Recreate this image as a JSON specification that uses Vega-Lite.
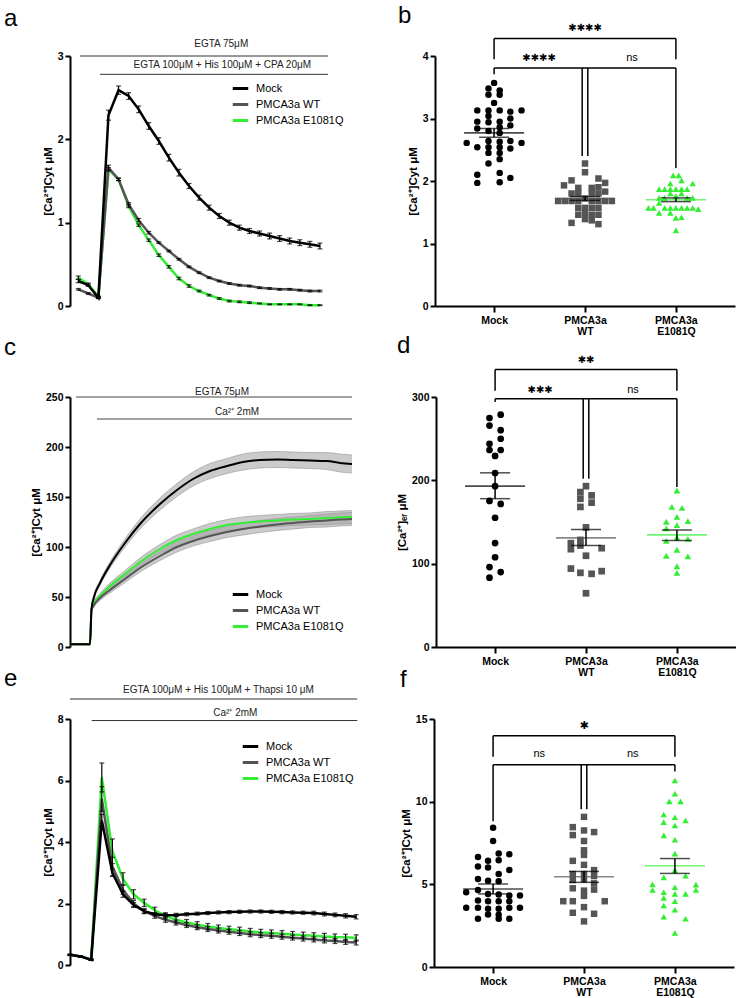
{
"$schema":"https://vega.github.io/schema/vega-lite/v6.json",
"padding":{"left":4,"top":3,"right":0,"bottom":0},
"background":"white",
"config":{"view":{"stroke":null},"font":"Liberation Sans",
"axis":{"domainColor":"#000","domainWidth":2,"tickColor":"#000","tickWidth":2,"tickSize":5,"labelFontSize":10.5,"labelFontWeight":"bold","labelColor":"#000","titleFontSize":11.5,"titleFontWeight":"bold","titleColor":"#000","grid":false,"labelFont":"Liberation Sans","titleFont":"Liberation Sans"},
"legend":{"labelFont":"Liberation Sans","labelColor":"#000"}},
"datasets":{
"a":[
{"g":"PMCA3a E1081Q","x":0,"y":0.34,"s":0.02},{"g":"PMCA3a E1081Q","x":1,"y":0.26,"s":0.015},{"g":"PMCA3a E1081Q","x":2,"y":0.11,"s":0.01},{"g":"PMCA3a E1081Q","x":3,"y":1.64,"s":0.02},{"g":"PMCA3a E1081Q","x":4,"y":1.52,"s":0.015},{"g":"PMCA3a E1081Q","x":5,"y":1.2,"s":0.02},{"g":"PMCA3a E1081Q","x":6,"y":0.97,"s":0.015},{"g":"PMCA3a E1081Q","x":7,"y":0.79,"s":0.015},{"g":"PMCA3a E1081Q","x":8,"y":0.61,"s":0.015},{"g":"PMCA3a E1081Q","x":9,"y":0.47,"s":0.015},{"g":"PMCA3a E1081Q","x":10,"y":0.33,"s":0.015},{"g":"PMCA3a E1081Q","x":11,"y":0.24,"s":0.015},{"g":"PMCA3a E1081Q","x":12,"y":0.18,"s":0.01},{"g":"PMCA3a E1081Q","x":13,"y":0.13,"s":0.01},{"g":"PMCA3a E1081Q","x":14,"y":0.09,"s":0.01},{"g":"PMCA3a E1081Q","x":15,"y":0.06,"s":0.01},{"g":"PMCA3a E1081Q","x":16,"y":0.05,"s":0.01},{"g":"PMCA3a E1081Q","x":17,"y":0.04,"s":0.01},{"g":"PMCA3a E1081Q","x":18,"y":0.03,"s":0.005},{"g":"PMCA3a E1081Q","x":19,"y":0.02,"s":0.005},{"g":"PMCA3a E1081Q","x":20,"y":0.02,"s":0.005},{"g":"PMCA3a E1081Q","x":21,"y":0.02,"s":0.005},{"g":"PMCA3a E1081Q","x":22,"y":0.02,"s":0.005},{"g":"PMCA3a E1081Q","x":23,"y":0.01,"s":0.005},{"g":"PMCA3a E1081Q","x":24,"y":0.01,"s":0.005},
{"g":"PMCA3a WT","x":0,"y":0.2,"s":0.01},{"g":"PMCA3a WT","x":1,"y":0.15,"s":0.01},{"g":"PMCA3a WT","x":2,"y":0.1,"s":0.01},{"g":"PMCA3a WT","x":3,"y":1.66,"s":0.03},{"g":"PMCA3a WT","x":4,"y":1.52,"s":0.015},{"g":"PMCA3a WT","x":5,"y":1.22,"s":0.02},{"g":"PMCA3a WT","x":6,"y":1.03,"s":0.02},{"g":"PMCA3a WT","x":7,"y":0.88,"s":0.015},{"g":"PMCA3a WT","x":8,"y":0.76,"s":0.01},{"g":"PMCA3a WT","x":9,"y":0.66,"s":0.01},{"g":"PMCA3a WT","x":10,"y":0.56,"s":0.01},{"g":"PMCA3a WT","x":11,"y":0.47,"s":0.01},{"g":"PMCA3a WT","x":12,"y":0.4,"s":0.01},{"g":"PMCA3a WT","x":13,"y":0.34,"s":0.01},{"g":"PMCA3a WT","x":14,"y":0.3,"s":0.01},{"g":"PMCA3a WT","x":15,"y":0.27,"s":0.01},{"g":"PMCA3a WT","x":16,"y":0.25,"s":0.01},{"g":"PMCA3a WT","x":17,"y":0.24,"s":0.01},{"g":"PMCA3a WT","x":18,"y":0.22,"s":0.01},{"g":"PMCA3a WT","x":19,"y":0.21,"s":0.01},{"g":"PMCA3a WT","x":20,"y":0.2,"s":0.01},{"g":"PMCA3a WT","x":21,"y":0.2,"s":0.01},{"g":"PMCA3a WT","x":22,"y":0.19,"s":0.01},{"g":"PMCA3a WT","x":23,"y":0.18,"s":0.01},{"g":"PMCA3a WT","x":24,"y":0.18,"s":0.01},
{"g":"Mock","x":0,"y":0.3,"s":0.02},{"g":"Mock","x":1,"y":0.25,"s":0.015},{"g":"Mock","x":2,"y":0.1,"s":0.01},{"g":"Mock","x":3,"y":2.29,"s":0.06},{"g":"Mock","x":4,"y":2.59,"s":0.05},{"g":"Mock","x":5,"y":2.52,"s":0.04},{"g":"Mock","x":6,"y":2.36,"s":0.04},{"g":"Mock","x":7,"y":2.16,"s":0.04},{"g":"Mock","x":8,"y":1.98,"s":0.04},{"g":"Mock","x":9,"y":1.78,"s":0.04},{"g":"Mock","x":10,"y":1.6,"s":0.04},{"g":"Mock","x":11,"y":1.44,"s":0.03},{"g":"Mock","x":12,"y":1.3,"s":0.03},{"g":"Mock","x":13,"y":1.18,"s":0.03},{"g":"Mock","x":14,"y":1.08,"s":0.03},{"g":"Mock","x":15,"y":1.0,"s":0.03},{"g":"Mock","x":16,"y":0.94,"s":0.03},{"g":"Mock","x":17,"y":0.9,"s":0.03},{"g":"Mock","x":18,"y":0.87,"s":0.03},{"g":"Mock","x":19,"y":0.84,"s":0.035},{"g":"Mock","x":20,"y":0.81,"s":0.035},{"g":"Mock","x":21,"y":0.78,"s":0.035},{"g":"Mock","x":22,"y":0.76,"s":0.035},{"g":"Mock","x":23,"y":0.74,"s":0.035},{"g":"Mock","x":24,"y":0.72,"s":0.035}],
"ann_a":[{"x":0.17,"x2":24.8,"y":3.0},{"x":2.15,"x2":24.8,"y":2.78}],
"txt_a":[{"x":14.2,"y":3.14,"t":"EGTA 75μM"},{"x":14.3,"y":2.89,"t":"EGTA 100μM + His 100μM  + CPA 20μM"}],
"c":[
{"g":"PMCA3a E1081Q","x":0,"y":2.7,"s":0.3},{"g":"PMCA3a E1081Q","x":20,"y":2.7,"s":0.3},{"g":"PMCA3a E1081Q","x":21.5,"y":38,"s":1.5},{"g":"PMCA3a E1081Q","x":24,"y":44,"s":2},{"g":"PMCA3a E1081Q","x":30,"y":51,"s":2.5},{"g":"PMCA3a E1081Q","x":40,"y":61,"s":3},{"g":"PMCA3a E1081Q","x":55,"y":73,"s":3.5},{"g":"PMCA3a E1081Q","x":70,"y":85,"s":4},{"g":"PMCA3a E1081Q","x":90,"y":98,"s":4.5},{"g":"PMCA3a E1081Q","x":107,"y":107,"s":5},{"g":"PMCA3a E1081Q","x":123,"y":113,"s":5},{"g":"PMCA3a E1081Q","x":140,"y":118,"s":5.5},{"g":"PMCA3a E1081Q","x":157,"y":122,"s":5.5},{"g":"PMCA3a E1081Q","x":173,"y":124,"s":6},{"g":"PMCA3a E1081Q","x":190,"y":125.5,"s":6},{"g":"PMCA3a E1081Q","x":207,"y":126.5,"s":6},{"g":"PMCA3a E1081Q","x":223,"y":127.5,"s":6},{"g":"PMCA3a E1081Q","x":240,"y":128,"s":6},{"g":"PMCA3a E1081Q","x":257,"y":129,"s":6.5},{"g":"PMCA3a E1081Q","x":270,"y":129.5,"s":6.5},{"g":"PMCA3a E1081Q","x":282,"y":130,"s":6.5},
{"g":"PMCA3a WT","x":0,"y":2.7,"s":0.3},{"g":"PMCA3a WT","x":20,"y":2.7,"s":0.3},{"g":"PMCA3a WT","x":21.5,"y":37,"s":1.5},{"g":"PMCA3a WT","x":24,"y":42,"s":2},{"g":"PMCA3a WT","x":30,"y":49,"s":2.5},{"g":"PMCA3a WT","x":40,"y":57,"s":3},{"g":"PMCA3a WT","x":55,"y":68,"s":3.5},{"g":"PMCA3a WT","x":70,"y":79,"s":4},{"g":"PMCA3a WT","x":90,"y":91,"s":4.5},{"g":"PMCA3a WT","x":107,"y":100,"s":5},{"g":"PMCA3a WT","x":123,"y":106,"s":5},{"g":"PMCA3a WT","x":140,"y":111,"s":5.5},{"g":"PMCA3a WT","x":157,"y":115,"s":5.5},{"g":"PMCA3a WT","x":173,"y":118,"s":6},{"g":"PMCA3a WT","x":190,"y":120.5,"s":6},{"g":"PMCA3a WT","x":207,"y":122.5,"s":6},{"g":"PMCA3a WT","x":223,"y":124,"s":6},{"g":"PMCA3a WT","x":240,"y":125.5,"s":6},{"g":"PMCA3a WT","x":257,"y":126.5,"s":6.5},{"g":"PMCA3a WT","x":270,"y":127.5,"s":6.5},{"g":"PMCA3a WT","x":282,"y":128,"s":6.5},
{"g":"Mock","x":0,"y":2.7,"s":0.3},{"g":"Mock","x":20,"y":2.7,"s":0.3},{"g":"Mock","x":21.5,"y":38,"s":1.5},{"g":"Mock","x":24,"y":50,"s":2},{"g":"Mock","x":30,"y":64,"s":2.5},{"g":"Mock","x":40,"y":82,"s":3},{"g":"Mock","x":55,"y":104,"s":4},{"g":"Mock","x":70,"y":123,"s":5},{"g":"Mock","x":90,"y":143,"s":6},{"g":"Mock","x":107,"y":157,"s":6.5},{"g":"Mock","x":123,"y":168,"s":7},{"g":"Mock","x":140,"y":176,"s":7.5},{"g":"Mock","x":157,"y":181,"s":7.5},{"g":"Mock","x":173,"y":185,"s":8},{"g":"Mock","x":190,"y":187,"s":8},{"g":"Mock","x":207,"y":187.5,"s":8},{"g":"Mock","x":223,"y":187,"s":8},{"g":"Mock","x":240,"y":186.5,"s":8},{"g":"Mock","x":257,"y":186,"s":8.5},{"g":"Mock","x":270,"y":184,"s":9},{"g":"Mock","x":282,"y":183,"s":9}],
"ann_c":[{"x":6,"x2":282,"y":250},{"x":27,"x2":282,"y":228}],
"txt_c":[{"x":152,"y":255,"t":"EGTA 75μM"},{"x":167,"y":235,"t":"Ca²⁺ 2mM"}],
"e":[
{"g":"PMCA3a E1081Q","x":0,"y":0.33,"s":0.02},{"g":"PMCA3a E1081Q","x":1,"y":0.28,"s":0.02},{"g":"PMCA3a E1081Q","x":2,"y":0.17,"s":0.02},{"g":"PMCA3a E1081Q","x":3,"y":6.1,"s":0.47},{"g":"PMCA3a E1081Q","x":4,"y":3.7,"s":0.4},{"g":"PMCA3a E1081Q","x":5,"y":2.8,"s":0.2},{"g":"PMCA3a E1081Q","x":6,"y":2.3,"s":0.15},{"g":"PMCA3a E1081Q","x":7,"y":2.02,"s":0.12},{"g":"PMCA3a E1081Q","x":8,"y":1.78,"s":0.1},{"g":"PMCA3a E1081Q","x":9,"y":1.6,"s":0.1},{"g":"PMCA3a E1081Q","x":10,"y":1.47,"s":0.1},{"g":"PMCA3a E1081Q","x":11,"y":1.38,"s":0.1},{"g":"PMCA3a E1081Q","x":12,"y":1.31,"s":0.1},{"g":"PMCA3a E1081Q","x":13,"y":1.25,"s":0.1},{"g":"PMCA3a E1081Q","x":14,"y":1.2,"s":0.1},{"g":"PMCA3a E1081Q","x":15,"y":1.16,"s":0.1},{"g":"PMCA3a E1081Q","x":16,"y":1.13,"s":0.1},{"g":"PMCA3a E1081Q","x":17,"y":1.09,"s":0.1},{"g":"PMCA3a E1081Q","x":18,"y":1.06,"s":0.1},{"g":"PMCA3a E1081Q","x":19,"y":1.04,"s":0.1},{"g":"PMCA3a E1081Q","x":20,"y":1.02,"s":0.1},{"g":"PMCA3a E1081Q","x":21,"y":0.99,"s":0.1},{"g":"PMCA3a E1081Q","x":22,"y":0.97,"s":0.1},{"g":"PMCA3a E1081Q","x":23,"y":0.95,"s":0.1},{"g":"PMCA3a E1081Q","x":24,"y":0.93,"s":0.1},{"g":"PMCA3a E1081Q","x":25,"y":0.91,"s":0.1},{"g":"PMCA3a E1081Q","x":26,"y":0.9,"s":0.1},{"g":"PMCA3a E1081Q","x":27,"y":0.88,"s":0.1},
{"g":"PMCA3a WT","x":0,"y":0.33,"s":0.02},{"g":"PMCA3a WT","x":1,"y":0.28,"s":0.02},{"g":"PMCA3a WT","x":2,"y":0.17,"s":0.02},{"g":"PMCA3a WT","x":3,"y":5.4,"s":0.4},{"g":"PMCA3a WT","x":4,"y":3.2,"s":0.3},{"g":"PMCA3a WT","x":5,"y":2.45,"s":0.15},{"g":"PMCA3a WT","x":6,"y":2.0,"s":0.1},{"g":"PMCA3a WT","x":7,"y":1.75,"s":0.08},{"g":"PMCA3a WT","x":8,"y":1.6,"s":0.08},{"g":"PMCA3a WT","x":9,"y":1.47,"s":0.08},{"g":"PMCA3a WT","x":10,"y":1.38,"s":0.08},{"g":"PMCA3a WT","x":11,"y":1.3,"s":0.08},{"g":"PMCA3a WT","x":12,"y":1.23,"s":0.08},{"g":"PMCA3a WT","x":13,"y":1.17,"s":0.08},{"g":"PMCA3a WT","x":14,"y":1.12,"s":0.08},{"g":"PMCA3a WT","x":15,"y":1.08,"s":0.08},{"g":"PMCA3a WT","x":16,"y":1.04,"s":0.08},{"g":"PMCA3a WT","x":17,"y":1.0,"s":0.08},{"g":"PMCA3a WT","x":18,"y":0.97,"s":0.08},{"g":"PMCA3a WT","x":19,"y":0.95,"s":0.08},{"g":"PMCA3a WT","x":20,"y":0.92,"s":0.08},{"g":"PMCA3a WT","x":21,"y":0.89,"s":0.08},{"g":"PMCA3a WT","x":22,"y":0.86,"s":0.08},{"g":"PMCA3a WT","x":23,"y":0.83,"s":0.08},{"g":"PMCA3a WT","x":24,"y":0.8,"s":0.08},{"g":"PMCA3a WT","x":25,"y":0.78,"s":0.08},{"g":"PMCA3a WT","x":26,"y":0.75,"s":0.08},{"g":"PMCA3a WT","x":27,"y":0.73,"s":0.08},
{"g":"Mock","x":0,"y":0.33,"s":0.02},{"g":"Mock","x":1,"y":0.28,"s":0.02},{"g":"Mock","x":2,"y":0.17,"s":0.02},{"g":"Mock","x":3,"y":4.7,"s":0.2},{"g":"Mock","x":4,"y":3.0,"s":0.12},{"g":"Mock","x":5,"y":2.3,"s":0.1},{"g":"Mock","x":6,"y":1.95,"s":0.08},{"g":"Mock","x":7,"y":1.75,"s":0.06},{"g":"Mock","x":8,"y":1.65,"s":0.05},{"g":"Mock","x":9,"y":1.62,"s":0.05},{"g":"Mock","x":10,"y":1.63,"s":0.05},{"g":"Mock","x":11,"y":1.65,"s":0.05},{"g":"Mock","x":12,"y":1.67,"s":0.05},{"g":"Mock","x":13,"y":1.69,"s":0.05},{"g":"Mock","x":14,"y":1.71,"s":0.05},{"g":"Mock","x":15,"y":1.72,"s":0.05},{"g":"Mock","x":16,"y":1.73,"s":0.05},{"g":"Mock","x":17,"y":1.74,"s":0.05},{"g":"Mock","x":18,"y":1.74,"s":0.05},{"g":"Mock","x":19,"y":1.73,"s":0.05},{"g":"Mock","x":20,"y":1.72,"s":0.05},{"g":"Mock","x":21,"y":1.71,"s":0.05},{"g":"Mock","x":22,"y":1.7,"s":0.05},{"g":"Mock","x":23,"y":1.69,"s":0.06},{"g":"Mock","x":24,"y":1.66,"s":0.06},{"g":"Mock","x":25,"y":1.63,"s":0.06},{"g":"Mock","x":26,"y":1.6,"s":0.07},{"g":"Mock","x":27,"y":1.57,"s":0.07}],
"ann_e":[{"x":0,"x2":27.1,"y":8.65},{"x":2.05,"x2":27.1,"y":7.95}],
"txt_e":[{"x":14,"y":8.94,"t":"EGTA 100μM + His 100μM + Thapsi 10  μM"},{"x":15.6,"y":8.2,"t":"Ca²⁺ 2mM"}],
"b":[
{"g":"Mock","j":0,"y":3.57},{"g":"Mock","j":-1,"y":3.48},{"g":"Mock","j":1,"y":3.45},{"g":"Mock","j":-1,"y":3.38},{"g":"Mock","j":1,"y":3.38},{"g":"Mock","j":0,"y":3.25},{"g":"Mock","j":-3,"y":3.13},{"g":"Mock","j":-1,"y":3.13},{"g":"Mock","j":1,"y":3.13},{"g":"Mock","j":2.9,"y":3.11},{"g":"Mock","j":4.9,"y":3.13},{"g":"Mock","j":-1,"y":3.04},{"g":"Mock","j":2.9,"y":3.0},{"g":"Mock","j":-3,"y":2.95},{"g":"Mock","j":-1,"y":2.94},{"g":"Mock","j":1,"y":2.95},{"g":"Mock","j":2.9,"y":2.89},{"g":"Mock","j":-3,"y":2.84},{"g":"Mock","j":1,"y":2.86},{"g":"Mock","j":-1,"y":2.8},{"g":"Mock","j":1,"y":2.77},{"g":"Mock","j":-4.9,"y":2.61},{"g":"Mock","j":-3,"y":2.54},{"g":"Mock","j":-1,"y":2.64},{"g":"Mock","j":1,"y":2.63},{"g":"Mock","j":2.9,"y":2.64},{"g":"Mock","j":4.9,"y":2.61},{"g":"Mock","j":-1,"y":2.54},{"g":"Mock","j":1,"y":2.54},{"g":"Mock","j":2.9,"y":2.52},{"g":"Mock","j":-1,"y":2.45},{"g":"Mock","j":1,"y":2.45},{"g":"Mock","j":1,"y":2.35},{"g":"Mock","j":-1,"y":2.28},{"g":"Mock","j":-3,"y":2.1},{"g":"Mock","j":1,"y":2.13},{"g":"Mock","j":2.9,"y":2.05},{"g":"Mock","j":-3,"y":1.97},{"g":"Mock","j":1,"y":1.98},
{"g":"PMCA3a WT","j":0,"y":2.28},{"g":"PMCA3a WT","j":0,"y":2.14},{"g":"PMCA3a WT","j":-2.4,"y":2.01},{"g":"PMCA3a WT","j":2.4,"y":2.04},{"g":"PMCA3a WT","j":3.6,"y":1.97},{"g":"PMCA3a WT","j":-3.75,"y":1.93},{"g":"PMCA3a WT","j":-1.2,"y":1.89},{"g":"PMCA3a WT","j":1.2,"y":1.89},{"g":"PMCA3a WT","j":2.4,"y":1.9},{"g":"PMCA3a WT","j":3.6,"y":1.83},{"g":"PMCA3a WT","j":-2.4,"y":1.8},{"g":"PMCA3a WT","j":-1.2,"y":1.8},{"g":"PMCA3a WT","j":1.2,"y":1.8},{"g":"PMCA3a WT","j":2.4,"y":1.8},{"g":"PMCA3a WT","j":-4.8,"y":1.68},{"g":"PMCA3a WT","j":-3.6,"y":1.68},{"g":"PMCA3a WT","j":-2.4,"y":1.68},{"g":"PMCA3a WT","j":-1.2,"y":1.68},{"g":"PMCA3a WT","j":0,"y":1.72},{"g":"PMCA3a WT","j":1.2,"y":1.68},{"g":"PMCA3a WT","j":2.4,"y":1.68},{"g":"PMCA3a WT","j":3.6,"y":1.68},{"g":"PMCA3a WT","j":4.8,"y":1.68},{"g":"PMCA3a WT","j":-1.2,"y":1.57},{"g":"PMCA3a WT","j":0,"y":1.57},{"g":"PMCA3a WT","j":1.2,"y":1.57},{"g":"PMCA3a WT","j":2.4,"y":1.57},{"g":"PMCA3a WT","j":-1.2,"y":1.46},{"g":"PMCA3a WT","j":0,"y":1.49},{"g":"PMCA3a WT","j":1.2,"y":1.46},{"g":"PMCA3a WT","j":2.4,"y":1.46},{"g":"PMCA3a WT","j":0,"y":1.39},{"g":"PMCA3a WT","j":1.2,"y":1.37},{"g":"PMCA3a WT","j":-2.4,"y":1.33},{"g":"PMCA3a WT","j":2.4,"y":1.31},
{"g":"PMCA3a E1081Q","j":-0.5,"y":2.09},{"g":"PMCA3a E1081Q","j":0.5,"y":2.09},{"g":"PMCA3a E1081Q","j":1,"y":2.01},{"g":"PMCA3a E1081Q","j":-1,"y":1.96},{"g":"PMCA3a E1081Q","j":3,"y":1.96},{"g":"PMCA3a E1081Q","j":-3,"y":1.87},{"g":"PMCA3a E1081Q","j":-2,"y":1.87},{"g":"PMCA3a E1081Q","j":-1,"y":1.87},{"g":"PMCA3a E1081Q","j":0,"y":1.87},{"g":"PMCA3a E1081Q","j":1,"y":1.87},{"g":"PMCA3a E1081Q","j":2,"y":1.87},{"g":"PMCA3a E1081Q","j":-1,"y":1.8},{"g":"PMCA3a E1081Q","j":1,"y":1.8},{"g":"PMCA3a E1081Q","j":0,"y":1.76},{"g":"PMCA3a E1081Q","j":-3,"y":1.73},{"g":"PMCA3a E1081Q","j":-2,"y":1.73},{"g":"PMCA3a E1081Q","j":2,"y":1.73},{"g":"PMCA3a E1081Q","j":3,"y":1.73},{"g":"PMCA3a E1081Q","j":-3,"y":1.65},{"g":"PMCA3a E1081Q","j":-4.9,"y":1.57},{"g":"PMCA3a E1081Q","j":-4,"y":1.57},{"g":"PMCA3a E1081Q","j":-2,"y":1.57},{"g":"PMCA3a E1081Q","j":-1,"y":1.57},{"g":"PMCA3a E1081Q","j":0,"y":1.57},{"g":"PMCA3a E1081Q","j":1,"y":1.57},{"g":"PMCA3a E1081Q","j":2,"y":1.57},{"g":"PMCA3a E1081Q","j":3,"y":1.57},{"g":"PMCA3a E1081Q","j":4,"y":1.55},{"g":"PMCA3a E1081Q","j":-3,"y":1.49},{"g":"PMCA3a E1081Q","j":-1,"y":1.49},{"g":"PMCA3a E1081Q","j":0,"y":1.41},{"g":"PMCA3a E1081Q","j":1,"y":1.42},{"g":"PMCA3a E1081Q","j":0,"y":1.21}],
"bm":[{"g":"Mock","j":0,"y":2.77,"lo":2.7,"hi":2.84},{"g":"PMCA3a WT","j":0,"y":1.72,"lo":1.69,"hi":1.75},{"g":"PMCA3a E1081Q","j":0,"y":1.7,"lo":1.67,"hi":1.73}],
"bh":[{"g":"Mock","g2":"PMCA3a E1081Q","j":0,"y":4.28},{"g":"Mock","g2":"PMCA3a WT","j":0,"y":3.81},{"g":"PMCA3a WT","g2":"PMCA3a E1081Q","j":0,"y":3.81}],
"bv":[{"g":"Mock","j":0,"y":4.28,"y2":3.95},{"g":"PMCA3a E1081Q","j":0,"y":4.28,"y2":3.95},{"g":"Mock","j":0,"y":3.81,"y2":3.71},{"g":"PMCA3a WT","j":-0.5,"y":3.81,"y2":2.4},{"g":"PMCA3a WT","j":0.5,"y":3.81,"y2":2.4},{"g":"PMCA3a E1081Q","j":0,"y":3.81,"y2":2.21}],
"bs":[{"g":"PMCA3a WT","j":0,"y":4.45,"t":"✱✱✱✱"},{"g":"PMCA3a WT","j":-8.2,"y":3.97,"t":"✱✱✱✱"}],
"bn":[{"g":"PMCA3a WT","j":8.4,"y":3.97,"t":"ns"}],
"d":[
{"g":"Mock","j":-1,"y":274.8},{"g":"Mock","j":1,"y":278.8},{"g":"Mock","j":-1,"y":265.7},{"g":"Mock","j":1,"y":260.2},{"g":"Mock","j":1,"y":249.9},{"g":"Mock","j":-1,"y":243.9},{"g":"Mock","j":-1,"y":236.4},{"g":"Mock","j":1,"y":236.4},{"g":"Mock","j":0,"y":229.3},{"g":"Mock","j":0,"y":208.8},{"g":"Mock","j":0,"y":193},{"g":"Mock","j":-1,"y":175.3},{"g":"Mock","j":1,"y":171.7},{"g":"Mock","j":0,"y":155.1},{"g":"Mock","j":0,"y":124.7},{"g":"Mock","j":0,"y":107.7},{"g":"Mock","j":-1,"y":95.9},{"g":"Mock","j":1,"y":89.9},{"g":"Mock","j":-1,"y":83.2},
{"g":"PMCA3a WT","j":0,"y":193},{"g":"PMCA3a WT","j":-1,"y":185.9},{"g":"PMCA3a WT","j":1,"y":181.9},{"g":"PMCA3a WT","j":-1,"y":177.9},{"g":"PMCA3a WT","j":1,"y":173.2},{"g":"PMCA3a WT","j":-1,"y":168.1},{"g":"PMCA3a WT","j":0,"y":143.5},{"g":"PMCA3a WT","j":-1,"y":128.5},{"g":"PMCA3a WT","j":-2.7,"y":124.6},{"g":"PMCA3a WT","j":-1,"y":121.8},{"g":"PMCA3a WT","j":-2.7,"y":117.4},{"g":"PMCA3a WT","j":2.8,"y":118.6},{"g":"PMCA3a WT","j":0,"y":109.5},{"g":"PMCA3a WT","j":-2.7,"y":94.1},{"g":"PMCA3a WT","j":-1,"y":89},{"g":"PMCA3a WT","j":1,"y":87.8},{"g":"PMCA3a WT","j":2.8,"y":91},{"g":"PMCA3a WT","j":0,"y":64.5},
{"g":"PMCA3a E1081Q","j":0,"y":187.8},{"g":"PMCA3a E1081Q","j":-0.9,"y":168.1},{"g":"PMCA3a E1081Q","j":0.9,"y":166.9},{"g":"PMCA3a E1081Q","j":-1.9,"y":150.3},{"g":"PMCA3a E1081Q","j":0,"y":156.2},{"g":"PMCA3a E1081Q","j":1.96,"y":151.1},{"g":"PMCA3a E1081Q","j":-1.9,"y":142.4},{"g":"PMCA3a E1081Q","j":0,"y":146.3},{"g":"PMCA3a E1081Q","j":-1.9,"y":127.4},{"g":"PMCA3a E1081Q","j":0,"y":131.4},{"g":"PMCA3a E1081Q","j":1.96,"y":129.8},{"g":"PMCA3a E1081Q","j":0,"y":116.7},{"g":"PMCA3a E1081Q","j":-1.9,"y":109.5},{"g":"PMCA3a E1081Q","j":1.96,"y":108.7},{"g":"PMCA3a E1081Q","j":0,"y":96.9},{"g":"PMCA3a E1081Q","j":0,"y":89}],
"dm":[{"g":"Mock","j":0,"y":193,"lo":178,"hi":209},{"g":"PMCA3a WT","j":0,"y":131,"lo":121.8,"hi":141},{"g":"PMCA3a E1081Q","j":0,"y":134.5,"lo":127.8,"hi":140.4}],
"dh":[{"g":"Mock","g2":"PMCA3a E1081Q","j":0,"y":333},{"g":"Mock","g2":"PMCA3a WT","j":0,"y":298},{"g":"PMCA3a WT","g2":"PMCA3a E1081Q","j":0,"y":298}],
"dv":[{"g":"Mock","j":0,"y":333,"y2":307.5},{"g":"PMCA3a E1081Q","j":0,"y":333,"y2":307.5},{"g":"Mock","j":0,"y":298,"y2":294},{"g":"PMCA3a WT","j":-0.5,"y":298,"y2":202},{"g":"PMCA3a WT","j":0.5,"y":298,"y2":202},{"g":"PMCA3a E1081Q","j":0,"y":298,"y2":192}],
"ds":[{"g":"PMCA3a WT","j":0,"y":344,"t":"✱✱"},{"g":"PMCA3a WT","j":-8.2,"y":308,"t":"✱✱✱"}],
"dn":[{"g":"PMCA3a WT","j":8.4,"y":308,"t":"ns"}],
"f":[
{"g":"Mock","j":0,"y":8.42},{"g":"Mock","j":0,"y":7.62},{"g":"Mock","j":1,"y":6.86},{"g":"Mock","j":2.9,"y":6.82},{"g":"Mock","j":-2.7,"y":6.66},{"g":"Mock","j":1,"y":6.46},{"g":"Mock","j":-0.9,"y":6.42},{"g":"Mock","j":-2.7,"y":6.08},{"g":"Mock","j":-0.9,"y":6.02},{"g":"Mock","j":2.9,"y":5.86},{"g":"Mock","j":1,"y":5.62},{"g":"Mock","j":-2.7,"y":5.32},{"g":"Mock","j":-0.9,"y":5.22},{"g":"Mock","j":1,"y":5.18},{"g":"Mock","j":-2.7,"y":4.66},{"g":"Mock","j":-4.8,"y":4.52},{"g":"Mock","j":-0.9,"y":4.42},{"g":"Mock","j":1,"y":4.38},{"g":"Mock","j":2.9,"y":4.32},{"g":"Mock","j":4.8,"y":4.32},{"g":"Mock","j":-2.7,"y":4.02},{"g":"Mock","j":-0.9,"y":3.98},{"g":"Mock","j":1,"y":3.98},{"g":"Mock","j":2.9,"y":3.98},{"g":"Mock","j":-4.8,"y":3.58},{"g":"Mock","j":-2.7,"y":3.58},{"g":"Mock","j":-0.9,"y":3.52},{"g":"Mock","j":1,"y":3.52},{"g":"Mock","j":2.9,"y":3.58},{"g":"Mock","j":4.8,"y":3.58},{"g":"Mock","j":-0.9,"y":3.18},{"g":"Mock","j":1,"y":3.16},{"g":"Mock","j":-2.7,"y":2.92},{"g":"Mock","j":1,"y":2.92},{"g":"Mock","j":2.9,"y":2.92},
{"g":"PMCA3a WT","j":0,"y":9.08},{"g":"PMCA3a WT","j":-2,"y":8.46},{"g":"PMCA3a WT","j":0,"y":8.26},{"g":"PMCA3a WT","j":1.8,"y":8.16},{"g":"PMCA3a WT","j":-2,"y":7.98},{"g":"PMCA3a WT","j":0,"y":7.62},{"g":"PMCA3a WT","j":0,"y":7.06},{"g":"PMCA3a WT","j":0,"y":6.78},{"g":"PMCA3a WT","j":-2,"y":6.42},{"g":"PMCA3a WT","j":0,"y":6.18},{"g":"PMCA3a WT","j":1.8,"y":5.86},{"g":"PMCA3a WT","j":-2,"y":5.62},{"g":"PMCA3a WT","j":0,"y":5.62},{"g":"PMCA3a WT","j":1.8,"y":5.5},{"g":"PMCA3a WT","j":-2,"y":5.26},{"g":"PMCA3a WT","j":0,"y":5.3},{"g":"PMCA3a WT","j":1.8,"y":5.06},{"g":"PMCA3a WT","j":-2,"y":4.76},{"g":"PMCA3a WT","j":0,"y":4.62},{"g":"PMCA3a WT","j":1.8,"y":4.68},{"g":"PMCA3a WT","j":0,"y":4.3},{"g":"PMCA3a WT","j":-3.7,"y":3.98},{"g":"PMCA3a WT","j":-2,"y":3.98},{"g":"PMCA3a WT","j":3.7,"y":3.98},{"g":"PMCA3a WT","j":0,"y":3.62},{"g":"PMCA3a WT","j":-2,"y":3.28},{"g":"PMCA3a WT","j":1.8,"y":3.22},{"g":"PMCA3a WT","j":0,"y":2.76},
{"g":"PMCA3a E1081Q","j":0,"y":11.28},{"g":"PMCA3a E1081Q","j":0,"y":10.48},{"g":"PMCA3a E1081Q","j":-1,"y":10.02},{"g":"PMCA3a E1081Q","j":1,"y":10.02},{"g":"PMCA3a E1081Q","j":-2,"y":9.22},{"g":"PMCA3a E1081Q","j":0,"y":9.06},{"g":"PMCA3a E1081Q","j":1.9,"y":8.86},{"g":"PMCA3a E1081Q","j":-2,"y":8.76},{"g":"PMCA3a E1081Q","j":0,"y":8.56},{"g":"PMCA3a E1081Q","j":-2,"y":7.96},{"g":"PMCA3a E1081Q","j":0,"y":7.7},{"g":"PMCA3a E1081Q","j":0,"y":6.86},{"g":"PMCA3a E1081Q","j":0,"y":5.86},{"g":"PMCA3a E1081Q","j":1.9,"y":5.52},{"g":"PMCA3a E1081Q","j":-2,"y":5.42},{"g":"PMCA3a E1081Q","j":-4,"y":5.0},{"g":"PMCA3a E1081Q","j":-4,"y":4.66},{"g":"PMCA3a E1081Q","j":3.75,"y":4.98},{"g":"PMCA3a E1081Q","j":3.75,"y":4.66},{"g":"PMCA3a E1081Q","j":0,"y":4.82},{"g":"PMCA3a E1081Q","j":-2,"y":4.52},{"g":"PMCA3a E1081Q","j":0,"y":4.42},{"g":"PMCA3a E1081Q","j":1.9,"y":4.42},{"g":"PMCA3a E1081Q","j":-2,"y":4.18},{"g":"PMCA3a E1081Q","j":0,"y":3.98},{"g":"PMCA3a E1081Q","j":-2,"y":3.72},{"g":"PMCA3a E1081Q","j":0,"y":3.46},{"g":"PMCA3a E1081Q","j":-2,"y":3.04},{"g":"PMCA3a E1081Q","j":1.9,"y":2.92},{"g":"PMCA3a E1081Q","j":0,"y":2.06}],
"fm":[{"g":"Mock","j":0,"y":4.72,"lo":4.42,"hi":5.02},{"g":"PMCA3a WT","j":0,"y":5.46,"lo":5.12,"hi":5.78},{"g":"PMCA3a E1081Q","j":0,"y":6.12,"lo":5.66,"hi":6.56}],
"fh":[{"g":"Mock","g2":"PMCA3a E1081Q","j":0,"y":13.98},{"g":"Mock","g2":"PMCA3a WT","j":0,"y":12.24},{"g":"PMCA3a WT","g2":"PMCA3a E1081Q","j":0,"y":12.24}],
"fv":[{"g":"Mock","j":0,"y":13.98,"y2":12.72},{"g":"PMCA3a E1081Q","j":0,"y":13.98,"y2":12.72},{"g":"Mock","j":0,"y":12.24,"y2":8.82},{"g":"PMCA3a WT","j":-0.5,"y":12.24,"y2":9.54},{"g":"PMCA3a WT","j":0.5,"y":12.24,"y2":9.54},{"g":"PMCA3a E1081Q","j":0,"y":12.24,"y2":11.82}],
"fs":[{"g":"PMCA3a WT","j":0,"y":14.6,"t":"✱"}],
"fn":[{"g":"PMCA3a WT","j":-8.0,"y":12.9,"t":"ns"},{"g":"PMCA3a WT","j":8.7,"y":12.9,"t":"ns"}]
},
"spacing":-3,
"resolve":{"scale":{"color":"independent","shape":"independent","x":"independent","y":"independent"},"legend":{"color":"independent","shape":"independent"}},
"vconcat":[
{"hconcat":[
{"width":288,"height":250,
"title":{"text":"a","anchor":"start","frame":"group","dx":-66,"offset":8,"fontSize":24,"fontWeight":"normal","font":"Liberation Sans","color":"#000"},
"encoding":{"x":{"field":"x","type":"quantitative","scale":{"domain":[-0.82,27.78],"nice":false,"zero":false},"axis":null},"y":{"field":"y","type":"quantitative","scale":{"domain":[0,3],"nice":false},"axis":{"values":[0,1,2,3],"title":"[Ca²⁺]Cyt μM"}}},
"layer":[
{"data":{"name":"ann_a"},"mark":{"type":"rule","color":"#333","strokeWidth":1},"encoding":{"x2":{"field":"x2"}}},
{"data":{"name":"txt_a"},"mark":{"type":"text","fontSize":10,"baseline":"middle","color":"#222"},"encoding":{"text":{"field":"t"}}},
{"data":{"name":"a"},"mark":{"type":"line","strokeWidth":2.5},"encoding":{"color":{"field":"g","type":"nominal","scale":{"domain":["Mock","PMCA3a WT","PMCA3a E1081Q"],"range":["#000000","#555555","#33ee33"]},"legend":{"title":null,"orient":"none","legendX":161,"legendY":23,"symbolType":"stroke","symbolStrokeWidth":3,"symbolSize":240,"labelFontSize":11,"rowPadding":-1,"labelOffset":6}}}},
{"data":{"name":"a"},"mark":{"type":"errorbar","ticks":true,"color":"#000","thickness":1.2},"encoding":{"yError":{"field":"s"}}}
]},
{"width":300,"height":250,
"title":{"text":"b","anchor":"start","frame":"group","dx":-37,"offset":-5,"fontSize":24,"fontWeight":"normal","font":"Liberation Sans","color":"#000"},
"encoding":{"x":{"field":"g","type":"nominal","scale":{"type":"point","domain":["Mock","PMCA3a WT","PMCA3a E1081Q"],"padding":0.65},"axis":{"title":null,"labelAngle":0,"tickSize":6,"labelPadding":3,"labelLineHeight":11,"labelExpr":"datum.value == 'Mock' ? 'Mock' : split(datum.value, ' ')"}},"xOffset":{"field":"j","type":"quantitative","scale":{"domain":[-6,6],"range":[-33.6,33.6]}},"y":{"field":"y","type":"quantitative","scale":{"domain":[0,4],"nice":false},"axis":{"values":[0,1,2,3,4],"title":"[Ca²⁺]Cyt μM"}}},
"layer":[
{"data":{"name":"bh"},"mark":{"type":"rule","color":"#000","strokeWidth":1.5},"encoding":{"x2":{"field":"g2"}}},
{"data":{"name":"bv"},"mark":{"type":"rule","color":"#000","strokeWidth":1.5},"encoding":{"y2":{"field":"y2"}}},
{"data":{"name":"bs"},"mark":{"type":"text","font":"DejaVu Sans","fontSize":10,"baseline":"middle","color":"#000"},"encoding":{"text":{"field":"t"}}},
{"data":{"name":"bn"},"mark":{"type":"text","fontSize":11,"baseline":"middle","color":"#000"},"encoding":{"text":{"field":"t"}}},
{"data":{"name":"b"},"mark":{"type":"point","filled":true,"opacity":1,"size":42},"encoding":{"shape":{"field":"g","type":"nominal","scale":{"domain":["Mock","PMCA3a WT","PMCA3a E1081Q"],"range":["circle","square","triangle-up"]},"legend":null},"color":{"field":"g","type":"nominal","scale":{"domain":["Mock","PMCA3a WT","PMCA3a E1081Q"],"range":["#000000","#555555","#33ee33"]},"legend":null}}},
{"data":{"name":"bm"},"mark":{"type":"tick","size":60,"thickness":1.6},"encoding":{"color":{"field":"g","type":"nominal","scale":{"domain":["Mock","PMCA3a WT","PMCA3a E1081Q"],"range":["#000000","#444444","#33ee33"]},"legend":null}}},
{"data":{"name":"bm"},"mark":{"type":"errorbar","ticks":{"size":30},"color":"#000","thickness":1.5},"encoding":{"y":{"field":"lo","type":"quantitative"},"y2":{"field":"hi"}}}
]}
],"spacing":40,"resolve":{"scale":{"color":"independent","shape":"independent","x":"independent","y":"independent"},"legend":{"color":"independent","shape":"independent"}}},
{"vconcat":[
{"hconcat":[
{"width":288,"height":250,
"title":{"text":"c","anchor":"start","frame":"group","dx":-66,"offset":27,"fontSize":24,"fontWeight":"normal","font":"Liberation Sans","color":"#000"},
"encoding":{"x":{"field":"x","type":"quantitative","scale":{"domain":[0,288],"nice":false,"zero":false},"axis":null},"y":{"field":"y","type":"quantitative","scale":{"domain":[0,250],"nice":false},"axis":{"values":[0,50,100,150,200,250],"title":"[Ca²⁺]Cyt μM"}}},
"layer":[
{"data":{"name":"ann_c"},"mark":{"type":"rule","color":"#444","strokeWidth":1},"encoding":{"x2":{"field":"x2"}}},
{"data":{"name":"txt_c"},"mark":{"type":"text","fontSize":10,"baseline":"middle","color":"#222"},"encoding":{"text":{"field":"t"}}},
{"data":{"name":"c"},"mark":{"type":"errorband","interpolate":"monotone","color":"#a8a8a8","opacity":0.6,"borders":{"stroke":"#999","strokeWidth":0.8,"opacity":0.8}},"encoding":{"yError":{"field":"s"},"detail":{"field":"g"}}},
{"data":{"name":"c"},"mark":{"type":"line","strokeWidth":2,"interpolate":"monotone"},"encoding":{"color":{"field":"g","type":"nominal","scale":{"domain":["Mock","PMCA3a WT","PMCA3a E1081Q"],"range":["#000000","#555555","#33ee33"]},"legend":{"title":null,"orient":"none","legendX":161,"legendY":188,"symbolType":"stroke","symbolStrokeWidth":3,"symbolSize":240,"labelFontSize":11,"rowPadding":-1,"labelOffset":6}}}}
]},
{"width":300,"height":250,
"title":{"text":"d","anchor":"start","frame":"group","dx":-39,"offset":-3,"fontSize":24,"fontWeight":"normal","font":"Liberation Sans","color":"#000"},
"encoding":{"x":{"field":"g","type":"nominal","scale":{"type":"point","domain":["Mock","PMCA3a WT","PMCA3a E1081Q"],"padding":0.65},"axis":{"title":null,"labelAngle":0,"tickSize":6,"labelPadding":3,"labelLineHeight":11,"labelExpr":"datum.value == 'Mock' ? 'Mock' : split(datum.value, ' ')"}},"xOffset":{"field":"j","type":"quantitative","scale":{"domain":[-6,6],"range":[-33.6,33.6]}},"y":{"field":"y","type":"quantitative","scale":{"domain":[0,300],"nice":false},"axis":{"values":[0,100,200,300],"title":"[Ca²⁺]ₑᵣ μM"}}},
"layer":[
{"data":{"name":"dh"},"mark":{"type":"rule","color":"#000","strokeWidth":1.5},"encoding":{"x2":{"field":"g2"}}},
{"data":{"name":"dv"},"mark":{"type":"rule","color":"#000","strokeWidth":1.5},"encoding":{"y2":{"field":"y2"}}},
{"data":{"name":"ds"},"mark":{"type":"text","font":"DejaVu Sans","fontSize":10,"baseline":"middle","color":"#000"},"encoding":{"text":{"field":"t"}}},
{"data":{"name":"dn"},"mark":{"type":"text","fontSize":11,"baseline":"middle","color":"#000"},"encoding":{"text":{"field":"t"}}},
{"data":{"name":"d"},"mark":{"type":"point","filled":true,"opacity":1,"size":45},"encoding":{"shape":{"field":"g","type":"nominal","scale":{"domain":["Mock","PMCA3a WT","PMCA3a E1081Q"],"range":["circle","square","triangle-up"]},"legend":null},"color":{"field":"g","type":"nominal","scale":{"domain":["Mock","PMCA3a WT","PMCA3a E1081Q"],"range":["#000000","#555555","#33ee33"]},"legend":null}}},
{"data":{"name":"dm"},"mark":{"type":"tick","size":60,"thickness":1.6},"encoding":{"color":{"field":"g","type":"nominal","scale":{"domain":["Mock","PMCA3a WT","PMCA3a E1081Q"],"range":["#000000","#555555","#33ee33"]},"legend":null}}},
{"data":{"name":"dm"},"mark":{"type":"errorbar","ticks":{"size":30},"color":"#000","thickness":1.5},"encoding":{"y":{"field":"lo","type":"quantitative"},"y2":{"field":"hi"}}}
]}
],"spacing":38,"resolve":{"scale":{"color":"independent","shape":"independent","x":"independent","y":"independent"},"legend":{"color":"independent","shape":"independent"}}},
{"hconcat":[
{"width":288,"height":246,
"title":{"text":"e","anchor":"start","frame":"group","dx":-66,"offset":-6,"fontSize":24,"fontWeight":"normal","font":"Liberation Sans","color":"#000"},
"encoding":{"x":{"field":"x","type":"quantitative","scale":{"domain":[0,27.17],"nice":false,"zero":false},"axis":null},"y":{"field":"y","type":"quantitative","scale":{"domain":[0,8],"nice":false},"axis":{"values":[0,2,4,6,8],"title":"[Ca²⁺]Cyt μM"}}},
"layer":[
{"data":{"name":"ann_e"},"mark":{"type":"rule","color":"#333","strokeWidth":1},"encoding":{"x2":{"field":"x2"}}},
{"data":{"name":"txt_e"},"mark":{"type":"text","fontSize":10,"baseline":"middle","color":"#222"},"encoding":{"text":{"field":"t"}}},
{"data":{"name":"e"},"mark":{"type":"line","strokeWidth":2.5},"encoding":{"color":{"field":"g","type":"nominal","scale":{"domain":["Mock","PMCA3a WT","PMCA3a E1081Q"],"range":["#000000","#555555","#33ee33"]},"legend":{"title":null,"orient":"none","legendX":171,"legendY":18,"symbolType":"stroke","symbolStrokeWidth":3,"symbolSize":240,"labelFontSize":11,"rowPadding":-1,"labelOffset":6}}}},
{"data":{"name":"e"},"mark":{"type":"errorbar","ticks":true,"color":"#000","thickness":1.2},"encoding":{"yError":{"field":"s"}}}
]},
{"width":300,"height":248,
"title":{"text":"f","anchor":"start","frame":"group","dx":-34,"offset":22,"fontSize":24,"fontWeight":"normal","font":"Liberation Sans","color":"#000"},
"encoding":{"x":{"field":"g","type":"nominal","scale":{"type":"point","domain":["Mock","PMCA3a WT","PMCA3a E1081Q"],"padding":0.65},"axis":{"title":null,"labelAngle":0,"tickSize":6,"labelPadding":3,"labelLineHeight":11,"labelExpr":"datum.value == 'Mock' ? 'Mock' : split(datum.value, ' ')"}},"xOffset":{"field":"j","type":"quantitative","scale":{"domain":[-6,6],"range":[-33.6,33.6]}},"y":{"field":"y","type":"quantitative","scale":{"domain":[0,15],"nice":false},"axis":{"values":[0,5,10,15],"title":"[Ca²⁺]Cyt μM"}}},
"layer":[
{"data":{"name":"fh"},"mark":{"type":"rule","color":"#000","strokeWidth":1.5},"encoding":{"x2":{"field":"g2"}}},
{"data":{"name":"fv"},"mark":{"type":"rule","color":"#000","strokeWidth":1.5},"encoding":{"y2":{"field":"y2"}}},
{"data":{"name":"fs"},"mark":{"type":"text","font":"DejaVu Sans","fontSize":11,"baseline":"middle","color":"#000"},"encoding":{"text":{"field":"t"}}},
{"data":{"name":"fn"},"mark":{"type":"text","fontSize":11,"baseline":"middle","color":"#000"},"encoding":{"text":{"field":"t"}}},
{"data":{"name":"f"},"mark":{"type":"point","filled":true,"opacity":1,"size":42},"encoding":{"shape":{"field":"g","type":"nominal","scale":{"domain":["Mock","PMCA3a WT","PMCA3a E1081Q"],"range":["circle","square","triangle-up"]},"legend":null},"color":{"field":"g","type":"nominal","scale":{"domain":["Mock","PMCA3a WT","PMCA3a E1081Q"],"range":["#000000","#555555","#33ee33"]},"legend":null}}},
{"data":{"name":"fm"},"mark":{"type":"tick","size":60,"thickness":1.6},"encoding":{"color":{"field":"g","type":"nominal","scale":{"domain":["Mock","PMCA3a WT","PMCA3a E1081Q"],"range":["#000000","#555555","#33ee33"]},"legend":null}}},
{"data":{"name":"fm"},"mark":{"type":"errorbar","ticks":{"size":30},"color":"#000","thickness":1.5},"encoding":{"y":{"field":"lo","type":"quantitative"},"y2":{"field":"hi"}}}
]}
],"spacing":38,"resolve":{"scale":{"color":"independent","shape":"independent","x":"independent","y":"independent"},"legend":{"color":"independent","shape":"independent"}}}
],"spacing":-11,"resolve":{"scale":{"color":"independent","shape":"independent","x":"independent","y":"independent"},"legend":{"color":"independent","shape":"independent"}}}
]
}
